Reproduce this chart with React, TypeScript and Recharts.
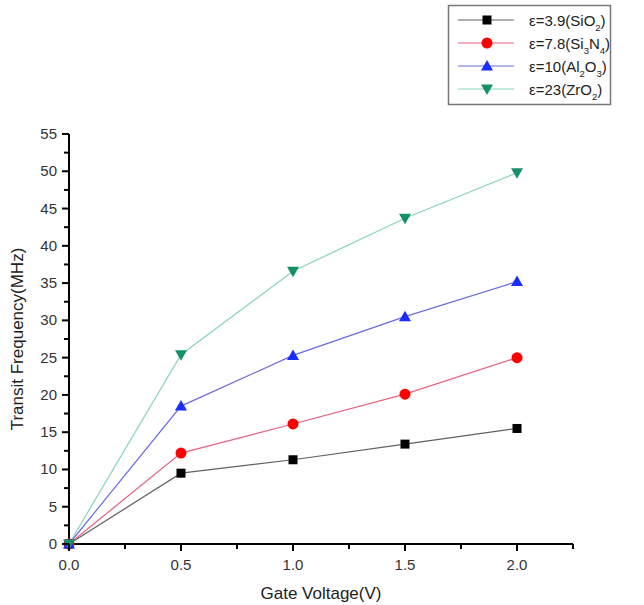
import React from 'react';
import { LineChart, Line, XAxis, YAxis } from 'recharts';

const voltages = [0, 0.5, 1.0, 1.5, 2.0];
const sio2 = [0, 9.5, 11.3, 13.4, 15.5];
const si3n4 = [0, 12.2, 16.1, 20.1, 25.0];
const al2o3 = [0, 18.5, 25.3, 30.5, 35.2];
const zro2 = [0, 25.4, 36.6, 43.7, 49.8];

const xTicks = [0, 0.25, 0.5, 0.75, 1.0, 1.25, 1.5, 1.75, 2.0, 2.25];
const yTicks = [0, 2.5, 5, 7.5, 10, 12.5, 15, 17.5, 20, 22.5, 25, 27.5, 30, 32.5, 35, 37.5, 40, 42.5, 45, 47.5, 50, 52.5, 55];

const data = voltages.map((v, i) => ({
  v,
  sio2: sio2[i],
  si3n4: si3n4[i],
  al2o3: al2o3[i],
  zro2: zro2[i],
}));

const FONT = '"Liberation Sans", Arial, sans-serif';

type Marker = 'square' | 'circle' | 'up' | 'down';

function markerPath(kind: Marker, cx: number, cy: number, color: string, key?: string | number) {
  if (kind === 'square') {
    return <rect key={key} x={cx - 4.5} y={cy - 4.5} width={9} height={9} fill={color} />;
  }
  if (kind === 'circle') {
    return <circle key={key} cx={cx} cy={cy} r={5.5} fill={color} />;
  }
  if (kind === 'up') {
    return <path key={key} d={`M${cx},${cy - 6} L${cx + 6},${cy + 4.5} L${cx - 6},${cy + 4.5} Z`} fill={color} />;
  }
  return <path key={key} d={`M${cx},${cy + 6} L${cx + 6},${cy - 4.5} L${cx - 6},${cy - 4.5} Z`} fill={color} />;
}

const seriesDefs = [
  { key: 'sio2', line: '#606060', mark: '#000000', kind: 'square' as Marker },
  { key: 'si3n4', line: '#e8607e', mark: '#ff0000', kind: 'circle' as Marker },
  { key: 'al2o3', line: '#6b6be0', mark: '#1a2cff', kind: 'up' as Marker },
  { key: 'zro2', line: '#86d6b8', mark: '#16906a', kind: 'down' as Marker },
];

const XTick = (props: any) => {
  const { x, y, payload } = props;
  const v = payload.value;
  const major = Math.abs(v * 2 - Math.round(v * 2)) < 1e-6;
  return (
    <g>
      <line x1={x} y1={y} x2={x} y2={y + (major ? 7 : 5)} stroke="#000" strokeWidth={2} />
      {major && (
        <text x={x} y={y + 26} textAnchor="middle" fontSize={15} fill="#333" fontFamily={FONT}>
          {v.toFixed(1)}
        </text>
      )}
    </g>
  );
};

const YTick = (props: any) => {
  const { x, y, payload } = props;
  const v = payload.value;
  const major = v % 5 === 0;
  return (
    <g>
      <line x1={x} y1={y} x2={x - (major ? 7 : 5)} y2={y} stroke="#000" strokeWidth={2} />
      {major && (
        <text x={x - 12} y={y + 5} textAnchor="end" fontSize={15} fill="#333" fontFamily={FONT}>
          {v}
        </text>
      )}
    </g>
  );
};

function LegendBox() {
  const rows = [
    { s: seriesDefs[0], parts: [['ε=3.9(SiO', false], ['2', true], [')', false]] },
    { s: seriesDefs[1], parts: [['ε=7.8(Si', false], ['3', true], ['N', false], ['4', true], [')', false]] },
    { s: seriesDefs[2], parts: [['ε=10(Al', false], ['2', true], ['O', false], ['3', true], [')', false]] },
    { s: seriesDefs[3], parts: [['ε=23(ZrO', false], ['2', true], [')', false]] },
  ];
  return (
    <svg width={196} height={110} style={{ position: 'absolute', left: 444, top: 0 }}>
      <rect x={4.5} y={5.5} width={162} height={99} fill="#fff" stroke="#777" strokeWidth={1.5} />
      {rows.map((r, i) => {
        const cy = 20 + i * 23;
        return (
          <g key={i}>
            <line x1={14} y1={cy} x2={70} y2={cy} stroke={r.s.line} strokeWidth={1.2} />
            {markerPath(r.s.kind, 43, cy, r.s.mark)}
            <text x={85} y={cy + 6} fontSize={15} fill="#222" fontFamily={FONT}>
              {r.parts.map((p, j) =>
                p[1] ? (
                  <tspan key={j} fontSize={9.5} dy={5}>{p[0] as string}</tspan>
                ) : (
                  <tspan key={j} dy={j > 0 && r.parts[j - 1][1] ? -5 : 0}>{p[0] as string}</tspan>
                )
              )}
            </text>
          </g>
        );
      })}
    </svg>
  );
}

export default function App() {
  return (
    <div style={{ position: 'absolute', left: 0, top: 0, width: 644, height: 605, background: '#fff' }}>
      <LineChart width={644} height={605} data={data} margin={{ top: 134, right: 71, bottom: 1, left: 0 }}>
        <XAxis
          dataKey="v"
          type="number"
          domain={[0, 2.25]}
          ticks={xTicks}
          interval={0}
          height={60}
          tickSize={0}
          tickMargin={0}
          tickLine={false}
          tick={<XTick />}
          axisLine={{ stroke: '#000', strokeWidth: 2 }}
          label={{ value: 'Gate Voltage(V)', position: 'insideBottom', offset: 5, fontSize: 17, fill: '#222', fontFamily: FONT }}
        />
        <YAxis
          type="number"
          domain={[0, 55]}
          ticks={yTicks}
          interval={0}
          width={69}
          tickSize={0}
          tickMargin={0}
          tickLine={false}
          tick={<YTick />}
          axisLine={{ stroke: '#000', strokeWidth: 2 }}
          label={{ value: 'Transit Frequency(MHz)', angle: -90, position: 'insideLeft', offset: 17, fontSize: 17, fill: '#222', fontFamily: FONT, style: { textAnchor: 'middle' } }}
        />
        {seriesDefs.map((s) => (
          <Line
            key={s.key}
            dataKey={s.key}
            type="linear"
            stroke={s.line}
            strokeWidth={1.2}
            isAnimationActive={false}
            dot={(p: any) => markerPath(s.kind, p.cx, p.cy, s.mark, p.index)}
            activeDot={false}
          />
        ))}
      </LineChart>
      <LegendBox />
    </div>
  );
}
